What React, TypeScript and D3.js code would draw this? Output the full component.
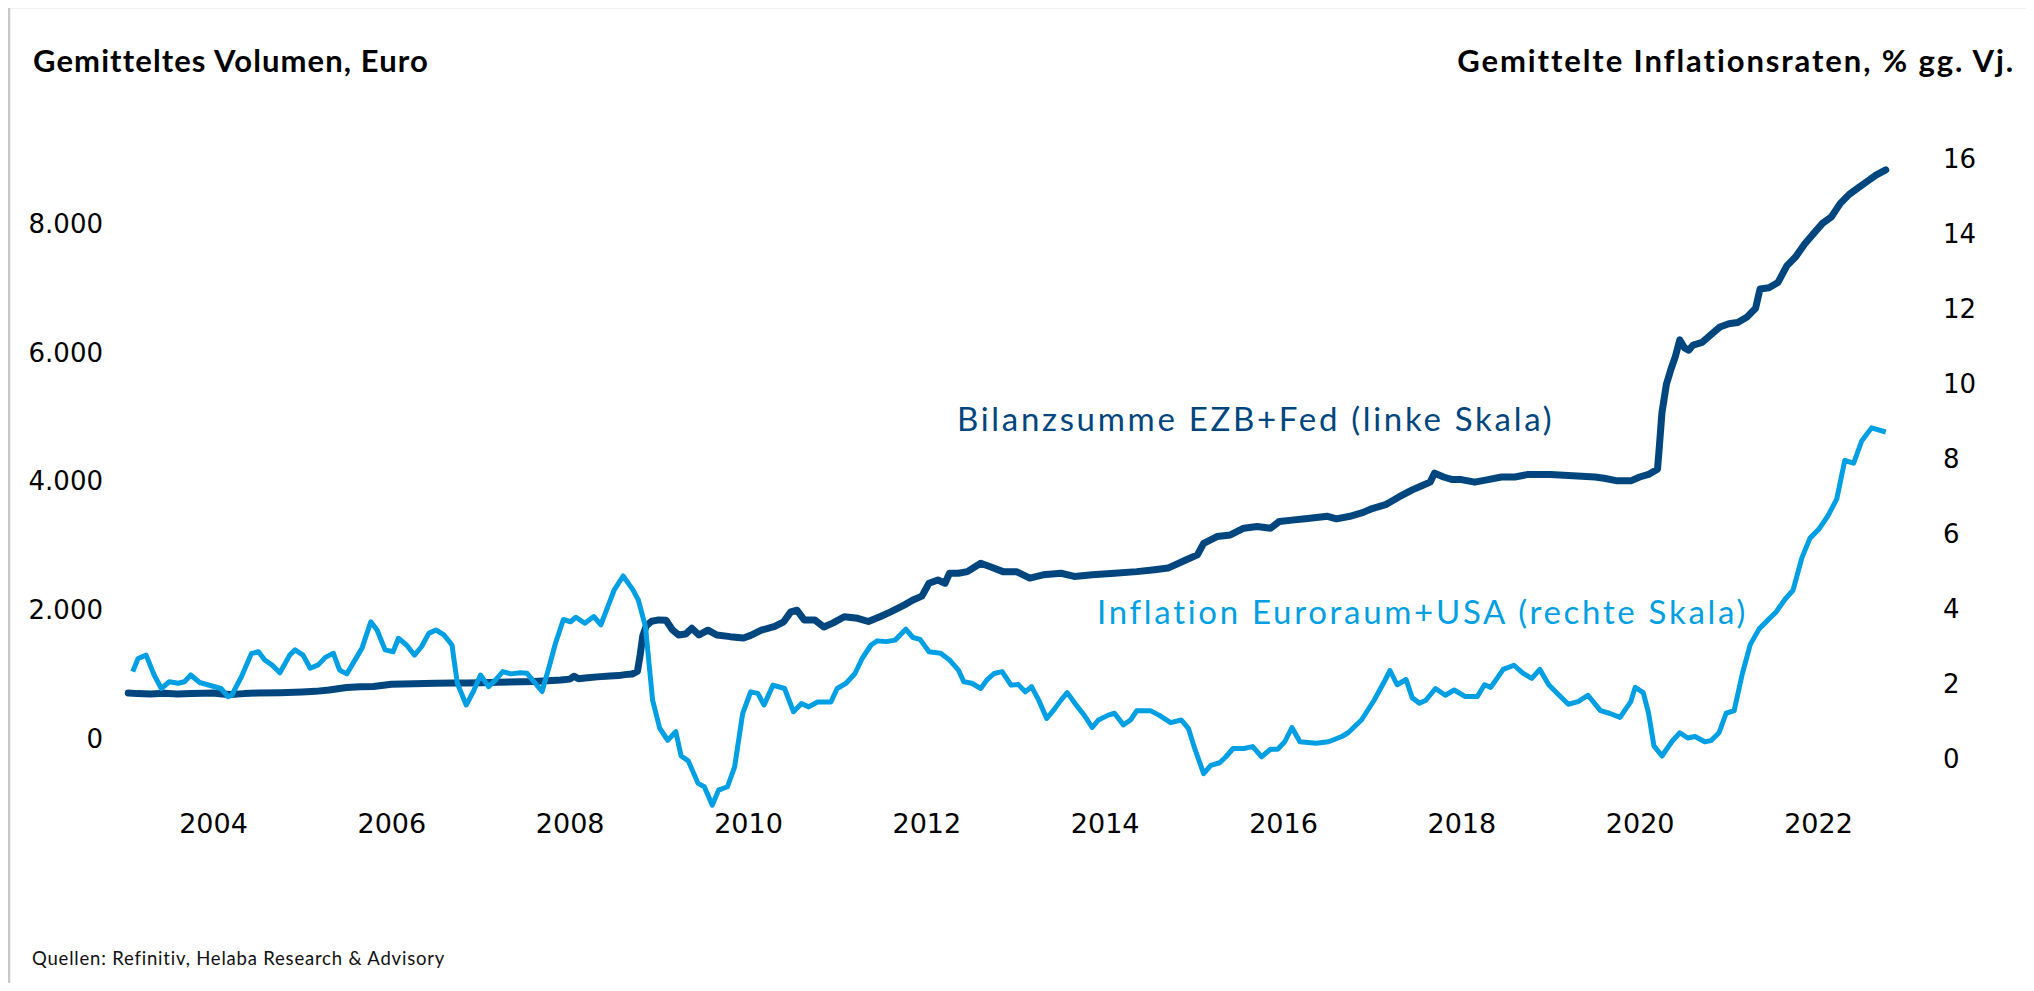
import { useEffect, useRef } from 'react';
import * as d3 from 'd3';

// Bilanzsumme EZB+Fed, gemittelt (Mrd. Euro), [Jahr, Wert]
const balanceSheet: [number, number][] = [
  [2003.05, 715], [2003.15, 705], [2003.3, 700], [2003.45, 710], [2003.6, 700], [2003.75, 705],
  [2003.9, 710], [2004.0, 715], [2004.1, 700], [2004.2, 690], [2004.35, 705], [2004.5, 715],
  [2004.75, 720], [2005.0, 730], [2005.15, 740], [2005.3, 760], [2005.4, 780], [2005.5, 800],
  [2005.65, 810], [2005.8, 815], [2006.0, 850], [2006.25, 860], [2006.5, 865], [2006.7, 868],
  [2006.85, 870], [2007.0, 875], [2007.2, 880], [2007.45, 890], [2007.6, 895], [2007.75, 905],
  [2007.9, 915], [2008.0, 930], [2008.05, 975], [2008.1, 935], [2008.2, 950], [2008.31, 965],
  [2008.45, 980], [2008.55, 985], [2008.62, 1000], [2008.7, 1010], [2008.76, 1050], [2008.79, 1300],
  [2008.82, 1600], [2008.86, 1760], [2008.92, 1830], [2009.0, 1850], [2009.08, 1845], [2009.15, 1700],
  [2009.22, 1616], [2009.3, 1630], [2009.37, 1720], [2009.45, 1616], [2009.55, 1690], [2009.65, 1616],
  [2009.8, 1590], [2009.95, 1570], [2010.03, 1610], [2010.15, 1690], [2010.3, 1750], [2010.4, 1820],
  [2010.48, 1975], [2010.55, 2000], [2010.63, 1850], [2010.75, 1850], [2010.85, 1740], [2010.95, 1800],
  [2011.08, 1900], [2011.23, 1875], [2011.35, 1825], [2011.48, 1900], [2011.6, 1975], [2011.75, 2080],
  [2011.85, 2160], [2011.95, 2220], [2012.03, 2420], [2012.13, 2470], [2012.21, 2420], [2012.26, 2575],
  [2012.36, 2575], [2012.46, 2600], [2012.61, 2730], [2012.71, 2680], [2012.86, 2600], [2013.01, 2600],
  [2013.16, 2500], [2013.31, 2550], [2013.51, 2575], [2013.66, 2525], [2013.86, 2550], [2014.11, 2575],
  [2014.36, 2600], [2014.56, 2630], [2014.71, 2655], [2014.91, 2780], [2015.04, 2860], [2015.11, 3040],
  [2015.26, 3145], [2015.41, 3170], [2015.56, 3275], [2015.71, 3300], [2015.86, 3275], [2015.96, 3380],
  [2016.1, 3400], [2016.25, 3420], [2016.5, 3460], [2016.6, 3420], [2016.75, 3460], [2016.9, 3520],
  [2017.0, 3580], [2017.15, 3640], [2017.3, 3760], [2017.45, 3870], [2017.55, 3930], [2017.65, 3990],
  [2017.7, 4130], [2017.8, 4070], [2017.9, 4030], [2018.0, 4030], [2018.15, 3990], [2018.3, 4030],
  [2018.45, 4070], [2018.6, 4070], [2018.75, 4110], [2019.0, 4110], [2019.25, 4090], [2019.5, 4070],
  [2019.6, 4050], [2019.75, 4010], [2019.9, 4010], [2020.0, 4070], [2020.1, 4110], [2020.15, 4150],
  [2020.2, 4190], [2020.22, 4530], [2020.25, 5070], [2020.3, 5510], [2020.35, 5740], [2020.4, 5940],
  [2020.45, 6200], [2020.5, 6080], [2020.55, 6040], [2020.6, 6120], [2020.7, 6160], [2020.8, 6280],
  [2020.9, 6400], [2021.0, 6450], [2021.1, 6470], [2021.2, 6550], [2021.3, 6690], [2021.35, 6990],
  [2021.45, 7010], [2021.55, 7090], [2021.65, 7350], [2021.75, 7490], [2021.85, 7690], [2021.95, 7850],
  [2022.05, 8010], [2022.15, 8110], [2022.25, 8320], [2022.35, 8460], [2022.45, 8560], [2022.55, 8660],
  [2022.65, 8760], [2022.76, 8840],
];

// Inflation Euroraum+USA, gemittelt (% gg. Vj.), [Jahr, Wert]
const inflation: [number, number][] = [
  [2003.1, 2.33], [2003.16, 2.68], [2003.25, 2.77], [2003.34, 2.24], [2003.42, 1.88], [2003.51, 2.06],
  [2003.61, 2.02], [2003.68, 2.06], [2003.75, 2.24], [2003.85, 2.04], [2004.09, 1.88], [2004.17, 1.66],
  [2004.21, 1.7], [2004.32, 2.2], [2004.43, 2.81], [2004.51, 2.86], [2004.58, 2.64], [2004.66, 2.51],
  [2004.75, 2.3], [2004.86, 2.77], [2004.92, 2.91], [2005.01, 2.77], [2005.09, 2.42], [2005.18, 2.51],
  [2005.26, 2.71], [2005.35, 2.82], [2005.42, 2.37], [2005.5, 2.27], [2005.67, 2.95], [2005.77, 3.66],
  [2005.84, 3.44], [2005.93, 2.91], [2006.02, 2.86], [2006.08, 3.22], [2006.17, 3.04], [2006.26, 2.77],
  [2006.34, 3.0], [2006.42, 3.35], [2006.5, 3.44], [2006.59, 3.31], [2006.68, 3.04], [2006.74, 2.02],
  [2006.84, 1.44], [2006.92, 1.8], [2007.0, 2.24], [2007.09, 1.93], [2007.17, 2.11], [2007.25, 2.33],
  [2007.34, 2.27], [2007.45, 2.3], [2007.52, 2.29], [2007.69, 1.8], [2007.77, 2.46], [2007.84, 3.08],
  [2007.93, 3.72], [2008.01, 3.66], [2008.07, 3.78], [2008.17, 3.62], [2008.27, 3.8], [2008.35, 3.58],
  [2008.5, 4.51], [2008.6, 4.88], [2008.71, 4.51], [2008.77, 4.24], [2008.85, 3.53], [2008.93, 1.57],
  [2009.01, 0.82], [2009.1, 0.5], [2009.19, 0.73], [2009.25, 0.08], [2009.33, -0.05], [2009.44, -0.65],
  [2009.51, -0.74], [2009.6, -1.23], [2009.67, -0.83], [2009.77, -0.74], [2009.85, -0.21], [2009.94, 1.21],
  [2010.03, 1.79], [2010.11, 1.75], [2010.18, 1.44], [2010.28, 1.97], [2010.41, 1.88], [2010.51, 1.26],
  [2010.6, 1.48], [2010.68, 1.39], [2010.78, 1.52], [2010.93, 1.52], [2011.0, 1.88], [2011.1, 2.02],
  [2011.2, 2.28], [2011.28, 2.68], [2011.38, 3.04], [2011.45, 3.15], [2011.55, 3.13], [2011.65, 3.17],
  [2011.77, 3.46], [2011.85, 3.24], [2011.93, 3.19], [2012.03, 2.86], [2012.16, 2.82], [2012.26, 2.64],
  [2012.36, 2.37], [2012.42, 2.06], [2012.51, 2.02], [2012.61, 1.88], [2012.68, 2.11], [2012.76, 2.28],
  [2012.85, 2.33], [2012.95, 1.97], [2013.03, 1.99], [2013.11, 1.79], [2013.18, 1.93], [2013.26, 1.57],
  [2013.35, 1.08], [2013.43, 1.31], [2013.51, 1.57], [2013.58, 1.77], [2013.68, 1.44], [2013.77, 1.17],
  [2013.86, 0.84], [2013.93, 1.04], [2014.04, 1.17], [2014.11, 1.22], [2014.21, 0.91], [2014.29, 1.04],
  [2014.36, 1.29], [2014.51, 1.29], [2014.61, 1.17], [2014.74, 0.97], [2014.86, 1.04], [2014.94, 0.81],
  [2015.01, 0.28], [2015.11, -0.39], [2015.19, -0.17], [2015.29, -0.1], [2015.36, 0.06], [2015.44, 0.28],
  [2015.56, 0.28], [2015.66, 0.33], [2015.76, 0.06], [2015.86, 0.26], [2015.94, 0.26], [2016.02, 0.46],
  [2016.1, 0.84], [2016.19, 0.46], [2016.37, 0.42], [2016.51, 0.46], [2016.66, 0.6], [2016.73, 0.7],
  [2016.88, 1.04], [2017.02, 1.56], [2017.14, 2.08], [2017.2, 2.36], [2017.28, 1.98], [2017.38, 2.12],
  [2017.45, 1.63], [2017.53, 1.49], [2017.6, 1.56], [2017.71, 1.88], [2017.82, 1.7], [2017.92, 1.84],
  [2018.04, 1.67], [2018.18, 1.67], [2018.26, 1.98], [2018.33, 1.91], [2018.47, 2.39], [2018.59, 2.5],
  [2018.69, 2.29], [2018.79, 2.15], [2018.88, 2.39], [2018.98, 1.98], [2019.08, 1.74], [2019.2, 1.46],
  [2019.31, 1.53], [2019.42, 1.7], [2019.56, 1.29], [2019.66, 1.22], [2019.78, 1.11], [2019.9, 1.53],
  [2019.95, 1.91], [2020.04, 1.77], [2020.1, 1.22], [2020.16, 0.35], [2020.25, 0.08], [2020.36, 0.46],
  [2020.45, 0.7], [2020.54, 0.56], [2020.62, 0.6], [2020.73, 0.46], [2020.8, 0.49], [2020.89, 0.7],
  [2020.97, 1.22], [2021.06, 1.29], [2021.15, 2.26], [2021.24, 3.05], [2021.34, 3.47], [2021.44, 3.71],
  [2021.53, 3.92], [2021.63, 4.26], [2021.72, 4.5], [2021.82, 5.37], [2021.91, 5.89], [2022.01, 6.13],
  [2022.11, 6.48], [2022.21, 6.93], [2022.3, 7.96], [2022.4, 7.89], [2022.49, 8.48], [2022.6, 8.83],
  [2022.76, 8.72],
];

const leftTicks = [0, 2000, 4000, 6000, 8000];
const rightTicks = [0, 2, 4, 6, 8, 10, 12, 14, 16];
const yearTicks = [2004, 2006, 2008, 2010, 2012, 2014, 2016, 2018, 2020, 2022];

const DARK = '#00467e';
const CYAN = '#009fe3';
const SANS = 'Lato, "Noto Sans", sans-serif';
const NUM = '"DejaVu Sans", Verdana, sans-serif';

const de = d3.formatLocale({ decimal: ',', thousands: '.', grouping: [3], currency: ['', ' €'] });

const App = () => {
  const ref = useRef<SVGSVGElement | null>(null);

  useEffect(() => {
    if (!ref.current) return;
    const svg = d3.select(ref.current);
    svg.selectAll('*').remove();

    // page coordinates (body margin 8px)
    const root = svg.append('g').attr('transform', 'translate(-8,-8)');

    const x = d3.scaleLinear().domain([2004, 2022]).range([213, 1818]);
    const yL = d3.scaleLinear().domain([0, 8000]).range([739, 224]);
    const yR = d3.scaleLinear().domain([0, 16]).range([759, 159]);

    // frame
    root.append('line').attr('x1', 9).attr('x2', 2040).attr('y1', 7).attr('y2', 7)
      .attr('stroke', '#c8c8c8').attr('stroke-width', 2.5);
    root.append('line').attr('x1', 9).attr('x2', 9).attr('y1', 7).attr('y2', 1000)
      .attr('stroke', '#c8c8c8').attr('stroke-width', 2.5);

    // titles
    root.append('text').attr('x', 33).attr('y', 72).text('Gemitteltes Volumen, Euro')
      .attr('font-family', SANS).attr('font-weight', 700).attr('font-size', 31)
      .attr('letter-spacing', 1.1).attr('fill', '#000');
    root.append('text').attr('x', 2015).attr('y', 72).attr('text-anchor', 'end')
      .text('Gemittelte Inflationsraten, % gg. Vj.')
      .attr('font-family', SANS).attr('font-weight', 700).attr('font-size', 31)
      .attr('letter-spacing', 1.9).attr('fill', '#000');

    // axes
    const styleAxis = (g: d3.Selection<SVGGElement, unknown, null, undefined>, size: number) => {
      g.select('.domain').remove();
      g.selectAll('line').remove();
      g.attr('font-family', NUM).attr('font-size', size);
      g.selectAll('text').attr('fill', '#000');
    };

    root.append('g').attr('transform', 'translate(0,814)')
      .call(d3.axisBottom(x).tickValues(yearTicks).tickFormat(d3.format('d')).tickSize(0).tickPadding(0))
      .call((g) => styleAxis(g, 27));

    root.append('g').attr('transform', 'translate(103,0)')
      .call(d3.axisLeft(yL).tickValues(leftTicks).tickFormat(de.format(',')).tickSize(0).tickPadding(0))
      .call((g) => styleAxis(g, 26));

    root.append('g').attr('transform', 'translate(1943,0)')
      .call(d3.axisRight(yR).tickValues(rightTicks).tickFormat(d3.format('d')).tickSize(0).tickPadding(0))
      .call((g) => styleAxis(g, 26));

    // series
    const lineL = d3.line<[number, number]>().x((d) => x(d[0])).y((d) => yL(d[1]));
    const lineR = d3.line<[number, number]>().x((d) => x(d[0])).y((d) => yR(d[1]));

    root.append('path').datum(balanceSheet).attr('d', lineL).attr('fill', 'none')
      .attr('stroke', DARK).attr('stroke-width', 7).attr('stroke-linejoin', 'round').attr('stroke-linecap', 'round');
    root.append('path').datum(inflation).attr('d', lineR).attr('fill', 'none')
      .attr('stroke', CYAN).attr('stroke-width', 5).attr('stroke-linejoin', 'round');

    // series labels
    root.append('text').attr('x', 957).attr('y', 431).text('Bilanzsumme EZB+Fed (linke Skala)')
      .attr('font-family', SANS).attr('font-size', 33).attr('letter-spacing', 2.7).attr('fill', DARK);
    root.append('text').attr('x', 1097).attr('y', 624).text('Inflation Euroraum+USA (rechte Skala)')
      .attr('font-family', SANS).attr('font-size', 33).attr('letter-spacing', 2.7).attr('fill', CYAN);

    // source
    root.append('text').attr('x', 32).attr('y', 965).text('Quellen: Refinitiv, Helaba Research & Advisory')
      .attr('font-family', SANS).attr('font-size', 18.5).attr('letter-spacing', 0.8).attr('fill', '#111');
  }, []);

  return (
    <svg ref={ref} width={2018} height={975} style={{ display: 'block', overflow: 'visible', background: '#fff' }} />
  );
};

export default App;
